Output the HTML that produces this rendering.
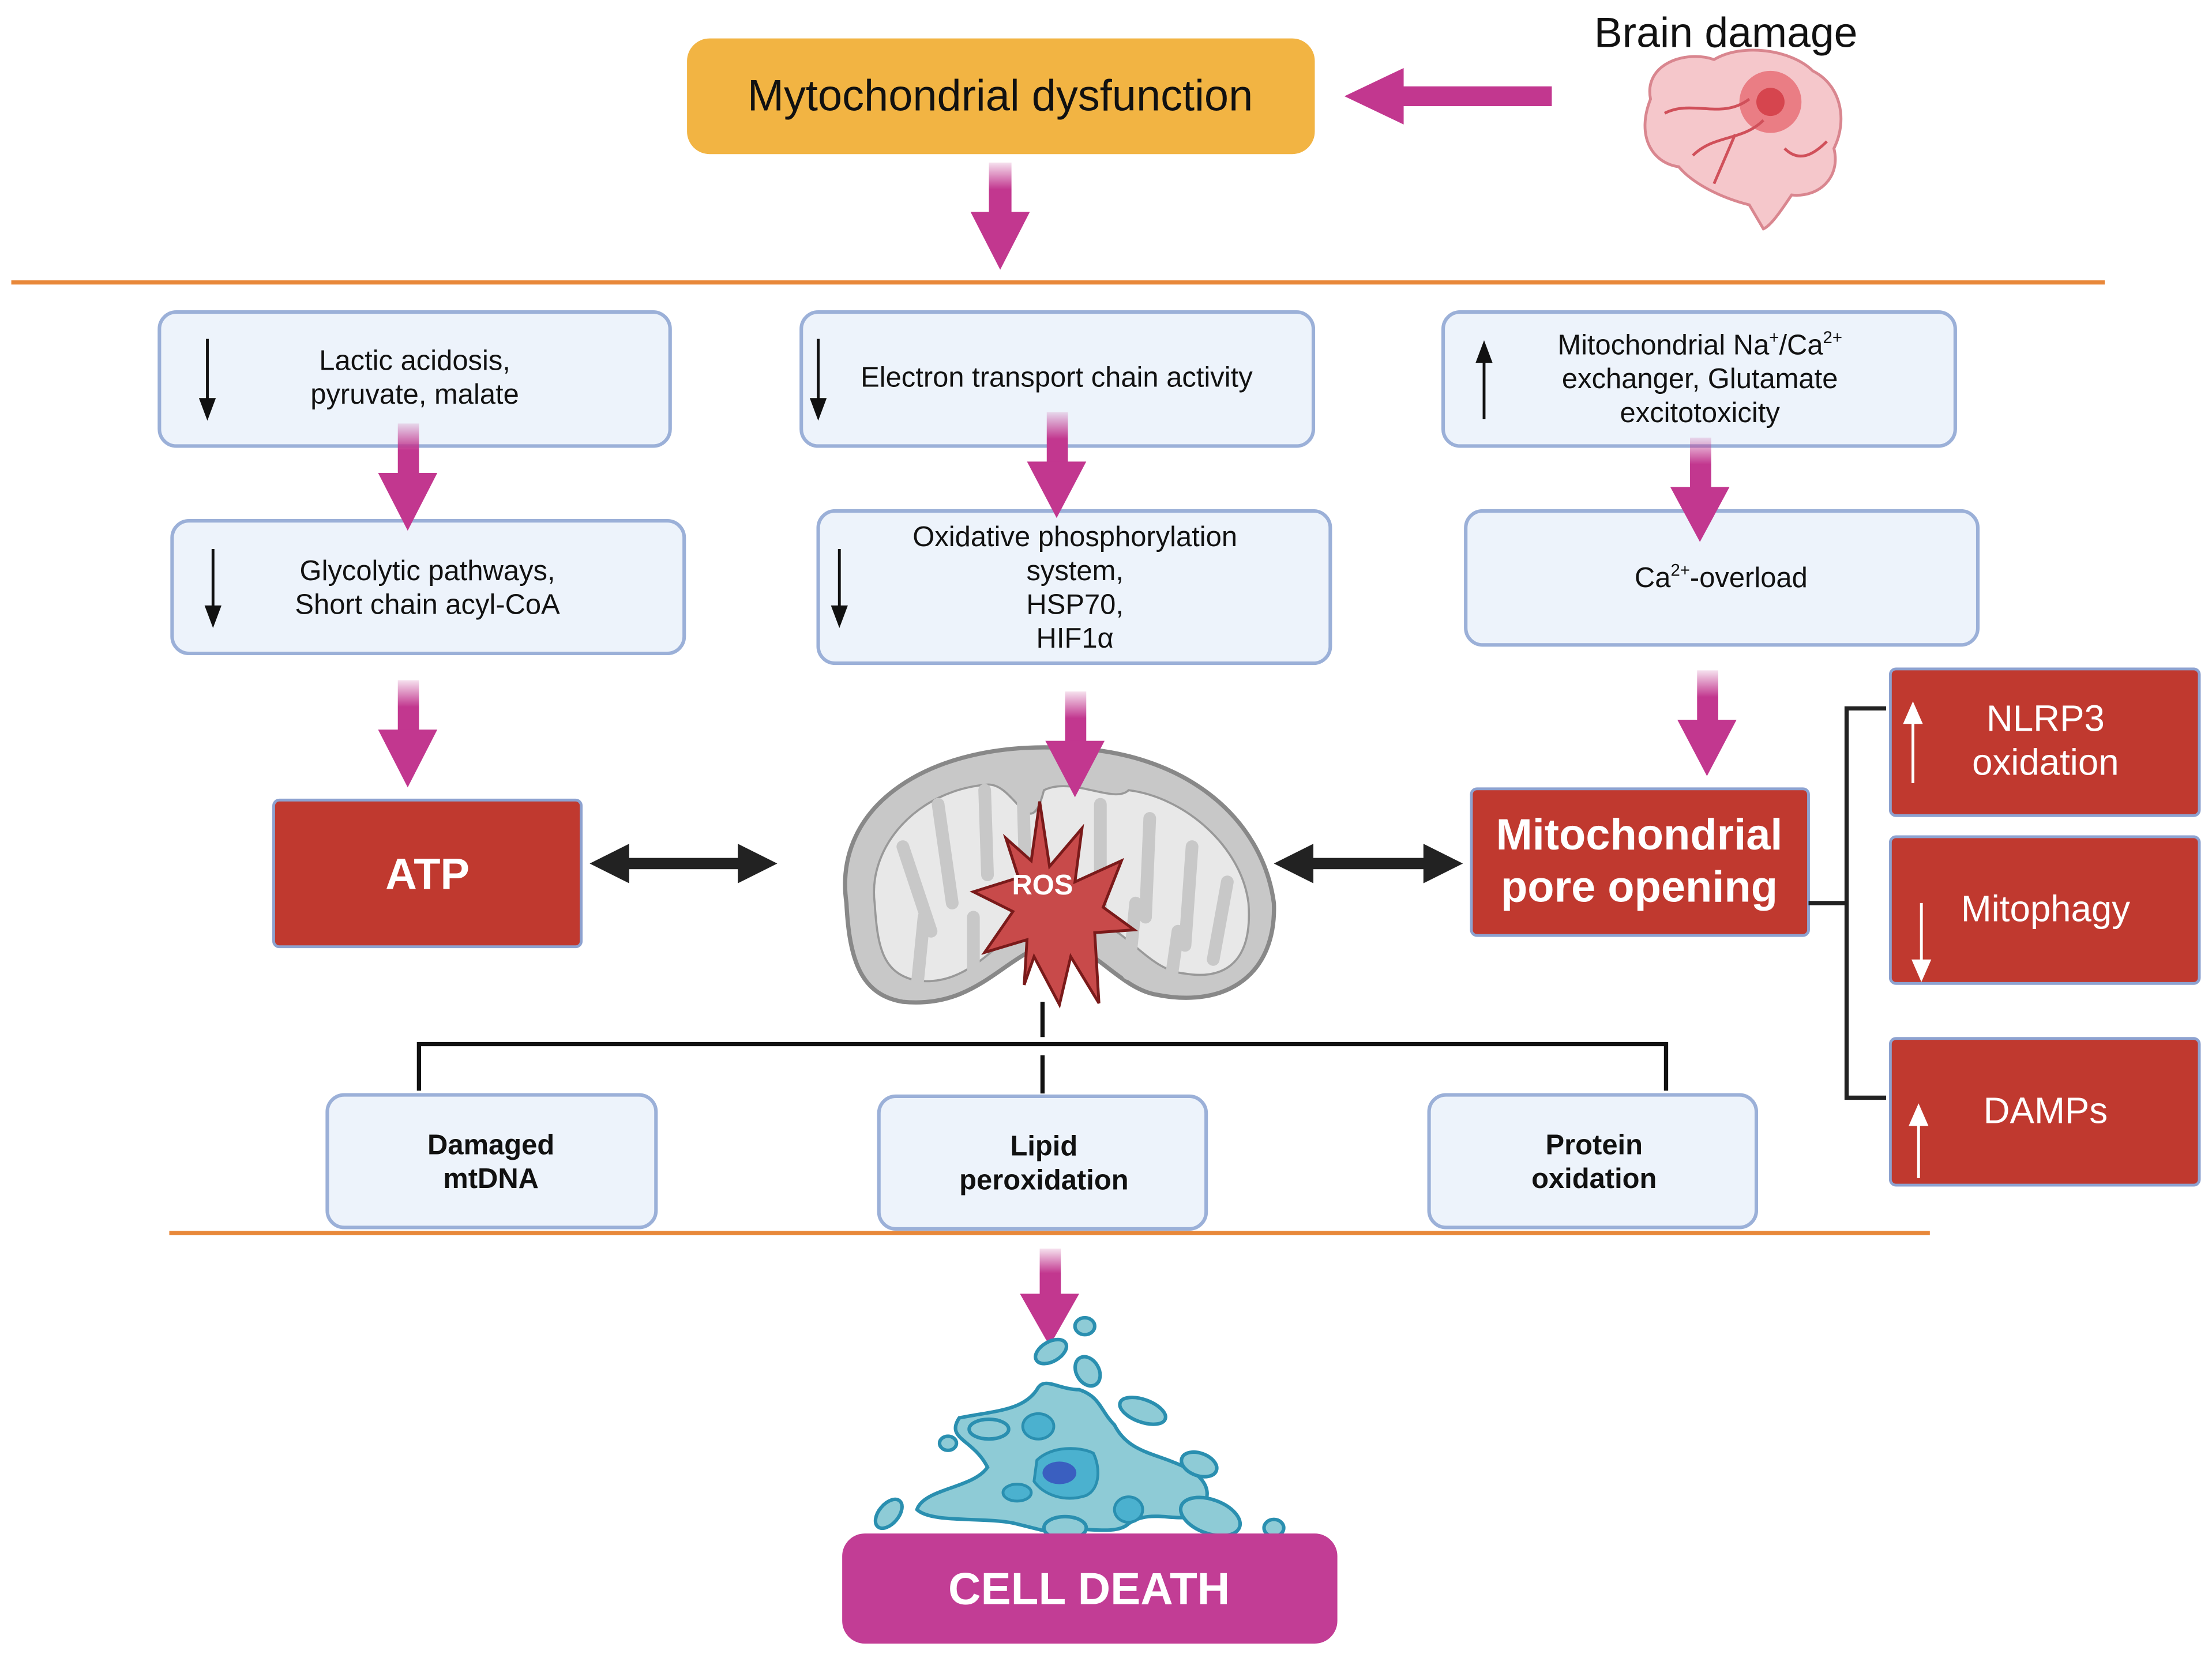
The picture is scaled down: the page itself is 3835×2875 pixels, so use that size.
<!DOCTYPE html>
<html><head><meta charset="utf-8"><style>
html,body{margin:0;padding:0;background:#fff}
svg{display:block}
text{font-family:"Liberation Sans",sans-serif}
</style></head><body>
<svg width="3835" height="2875" viewBox="0 0 1568 1175" xmlns="http://www.w3.org/2000/svg">
<defs>
<linearGradient id="pg" x1="0" y1="0" x2="0" y2="1"><stop offset="0" stop-color="#c2378f" stop-opacity="0.15"/><stop offset="0.5" stop-color="#c2378f"/><stop offset="1" stop-color="#c2378f"/></linearGradient>
<linearGradient id="pgh" x1="1" y1="0" x2="0" y2="0"><stop offset="0" stop-color="#c2378f"/><stop offset="1" stop-color="#c2378f"/></linearGradient>
</defs>
<!-- top -->
<rect x="487" y="27" width="445" height="82" rx="16" fill="#f2b443"/>
<text x="709" y="78" font-size="31" text-anchor="middle" fill="#111">Mytochondrial dysfunction</text>
<text x="1130" y="33" font-size="30" fill="#111">Brain damage</text>
<polygon points="1100,61 995,61 995,48 953,68 995,88 995,75 1100,75" fill="#c2378f"/>
<!-- brain -->
<g>
<path d="M1170,70 C1165,45 1195,35 1215,42 C1235,30 1270,35 1285,50 C1305,60 1310,85 1300,105 C1305,125 1290,140 1270,138 C1262,150 1255,160 1250,162 L1240,145 C1220,140 1200,130 1190,118 C1170,115 1160,95 1170,70Z" fill="#f5c7cb" stroke="#d9868f" stroke-width="2"/>
<circle cx="1255" cy="72" r="22" fill="#e0404a" opacity="0.55"/>
<circle cx="1255" cy="72" r="10" fill="#c8202a" opacity="0.6"/>
<path d="M1180,80 C1200,70 1220,85 1240,70 M1200,110 C1215,95 1235,100 1250,85 M1215,130 L1230,95 M1265,105 C1275,115 1285,110 1295,100" stroke="#d0505a" stroke-width="2" fill="none"/>
</g>
<!-- down arrow top -->
<rect x="701" y="115" width="16" height="38" fill="url(#pg)"/>
<polygon points="688,150 730,150 709,191" fill="#c2378f"/>
<line x1="8" y1="200" x2="1492" y2="200" stroke="#e8883a" stroke-width="3"/>
<!-- blue boxes -->
<g fill="#edf3fb" stroke="#9bb0d8" stroke-width="2.5">
<rect x="113" y="221" width="362" height="95" rx="12"/>
<rect x="568" y="221" width="363" height="95" rx="12"/>
<rect x="1023" y="221" width="363" height="95" rx="12"/>
<rect x="122" y="369" width="363" height="94" rx="12"/>
<rect x="580" y="362" width="363" height="108" rx="12"/>
<rect x="1039" y="362" width="363" height="95" rx="12"/>
<rect x="232" y="776" width="233" height="94" rx="12"/>
<rect x="623" y="777" width="232" height="94" rx="12"/>
<rect x="1013" y="776" width="232" height="94" rx="12"/>
</g>
<g font-size="20" fill="#111" text-anchor="middle">
<text x="294" y="262">Lactic acidosis,</text><text x="294" y="286">pyruvate, malate</text>
<text x="749" y="274">Electron transport chain activity</text>
<text x="1205" y="251">Mitochondrial Na<tspan font-size="12" dy="-8">+</tspan><tspan dy="8">/Ca</tspan><tspan font-size="12" dy="-8">2+</tspan></text>
<text x="1205" y="275">exchanger, Glutamate</text><text x="1205" y="299">excitotoxicity</text>
<text x="303" y="411">Glycolytic pathways,</text><text x="303" y="435">Short chain acyl-CoA</text>
<text x="762" y="387">Oxidative phosphorylation</text><text x="762" y="411">system,</text><text x="762" y="435">HSP70,</text><text x="762" y="459">HIF1α</text>
<text x="1220" y="416">Ca<tspan font-size="12" dy="-8">2+</tspan><tspan dy="8">-overload</tspan></text>
<g font-weight="bold"><text x="348" y="818">Damaged</text><text x="348" y="842">mtDNA</text>
<text x="740" y="819">Lipid</text><text x="740" y="843">peroxidation</text>
<text x="1130" y="818">Protein</text><text x="1130" y="842">oxidation</text></g>
</g>
<!-- small black arrows -->
<g stroke="#111" stroke-width="2" fill="#111">
<line x1="147" y1="240" x2="147" y2="285"/><polygon points="141,282 153,282 147,298" stroke="none"/>
<line x1="580" y1="240" x2="580" y2="285"/><polygon points="574,282 586,282 580,298" stroke="none"/>
<line x1="1052" y1="297" x2="1052" y2="254"/><polygon points="1046,257 1058,257 1052,241" stroke="none"/>
<line x1="151" y1="389" x2="151" y2="432"/><polygon points="145,429 157,429 151,445" stroke="none"/>
<line x1="595" y1="389" x2="595" y2="432"/><polygon points="589,429 601,429 595,445" stroke="none"/>
</g>
<!-- pink arrows mid -->
<g>
<rect x="282" y="300" width="15" height="38" fill="url(#pg)"/><polygon points="268,335 310,335 289,376" fill="#c2378f"/>
<rect x="742" y="292" width="15" height="38" fill="url(#pg)"/><polygon points="728,327 770,327 749,367" fill="#c2378f"/>
<rect x="1198" y="310" width="15" height="38" fill="url(#pg)"/><polygon points="1184,345 1226,345 1205,384" fill="#c2378f"/>
<rect x="282" y="482" width="15" height="38" fill="url(#pg)"/><polygon points="268,517 310,517 289,558" fill="#c2378f"/>
<rect x="1203" y="475" width="15" height="38" fill="url(#pg)"/><polygon points="1189,510 1231,510 1210,550" fill="#c2378f"/>
</g>
<!-- ATP -->
<rect x="194" y="567" width="218" height="104" rx="4" fill="#c0392f" stroke="#8da2d0" stroke-width="2"/>
<text x="303" y="630" font-size="31" font-weight="bold" fill="#fff" text-anchor="middle">ATP</text>
<g fill="#222">
<rect x="440" y="608" width="90" height="8"/><polygon points="418,612 446,598 446,626"/><polygon points="551,612 523,598 523,626"/>
<rect x="925" y="608" width="90" height="8"/><polygon points="903,612 931,598 931,626"/><polygon points="1037,612 1009,598 1009,626"/>
</g>
<!-- mitochondrion -->
<g>
<path d="M600,640 C590,570 660,525 755,530 C840,532 895,580 903,640 C905,690 870,715 820,705 C790,700 770,660 740,670 C710,680 690,715 640,710 C610,705 602,680 600,640Z" fill="#c8c8c8" stroke="#888" stroke-width="3"/>
<path d="M620,640 C615,600 650,560 700,556 C720,555 730,600 740,560 C760,550 790,570 800,560 C840,565 880,600 885,640 C888,680 870,695 840,690 C815,688 800,660 780,655 C760,652 745,650 735,652 C710,660 690,700 650,695 C625,690 622,670 620,640Z" fill="#e8e8e8" stroke="#999" stroke-width="1.5"/>
<g stroke="#c8c8c8" stroke-width="9" stroke-linecap="round" fill="none">
<path d="M640,600 L660,660"/><path d="M665,570 L675,640"/><path d="M698,560 L700,620"/><path d="M725,555 L728,660"/>
<path d="M780,570 L780,660"/><path d="M815,580 L812,650"/><path d="M845,600 L840,670"/><path d="M870,625 L860,680"/>
<path d="M650,700 L655,650"/><path d="M690,690 L690,650"/><path d="M800,690 L805,640"/><path d="M830,695 L835,660"/>
</g>
<polygon points="737,568 744,614 767,587 762,625 795,610 782,643 804,659 776,661 779,711 759,678 751,712 733,678 726,698 728,666 698,675 718,646 690,632 722,622 713,594 731,610" fill="#c84a4a" stroke="#7a1a1a" stroke-width="2"/>
<text x="739" y="634" font-size="20" font-weight="bold" fill="#fff" text-anchor="middle">ROS</text>
</g>
<rect x="755" y="490" width="15" height="38" fill="url(#pg)"/><polygon points="741,525 783,525 762,565" fill="#c2378f"/>
<!-- pore -->
<rect x="1043" y="559" width="239" height="104" rx="4" fill="#c0392f" stroke="#8da2d0" stroke-width="2"/>
<text x="1162" y="602" font-size="31" font-weight="bold" fill="#fff" text-anchor="middle">Mitochondrial</text>
<text x="1162" y="639" font-size="31" font-weight="bold" fill="#fff" text-anchor="middle">pore opening</text>
<!-- bracket -->
<g stroke="#222" stroke-width="3" fill="none">
<line x1="1282" y1="640" x2="1309" y2="640"/><polyline points="1337,502 1309,502 1309,778 1337,778"/>
</g>
<g fill="#c0392f" stroke="#8da2d0" stroke-width="2">
<rect x="1340" y="474" width="219" height="104" rx="4"/><rect x="1340" y="593" width="219" height="104" rx="4"/><rect x="1340" y="736" width="219" height="104" rx="4"/>
</g>
<g font-size="26" fill="#fff" text-anchor="middle">
<text x="1450" y="518">NLRP3</text><text x="1450" y="549">oxidation</text>
<text x="1450" y="653">Mitophagy</text><text x="1450" y="796">DAMPs</text>
</g>
<g stroke="#fff" stroke-width="2" fill="#fff">
<line x1="1356" y1="555" x2="1356" y2="510"/><polygon points="1349,513 1363,513 1356,497" stroke="none"/>
<line x1="1362" y1="640" x2="1362" y2="683"/><polygon points="1355,680 1369,680 1362,696" stroke="none"/>
<line x1="1360" y1="835" x2="1360" y2="795"/><polygon points="1353,798 1367,798 1360,782" stroke="none"/>
</g>
<!-- tree -->
<g stroke="#111" stroke-width="3" fill="none">
<line x1="739" y1="710" x2="739" y2="735"/><polyline points="297,773 297,740 1181,740 1181,773"/><line x1="739" y1="748" x2="739" y2="775"/>
</g>
<line x1="120" y1="874" x2="1368" y2="874" stroke="#e8883a" stroke-width="3"/>
<rect x="737" y="885" width="15" height="35" fill="url(#pg)"/><polygon points="723,917 765,917 744,954" fill="#c2378f"/>
<!-- cell -->
<g fill="#8ecbd6" stroke="#2a8fb0" stroke-width="2.5">
<path d="M720,1080 C700,1075 660,1080 650,1070 C655,1055 690,1055 700,1040 C690,1020 670,1020 680,1005 C705,1000 725,1000 735,985 C740,975 750,985 765,985 C780,990 780,1000 790,1010 C800,1030 820,1030 840,1040 C860,1050 860,1065 845,1075 C830,1078 815,1070 800,1080 C790,1090 760,1080 740,1085 Z"/>
<ellipse cx="769" cy="940" rx="7" ry="6"/><ellipse cx="745" cy="958" rx="12" ry="7" transform="rotate(-30 745 958)"/><ellipse cx="771" cy="972" rx="8" ry="11" transform="rotate(-30 771 972)"/>
<ellipse cx="810" cy="1000" rx="17" ry="8" transform="rotate(20 810 1000)"/><ellipse cx="701" cy="1013" rx="14" ry="7"/><ellipse cx="672" cy="1023" rx="6" ry="5"/>
<ellipse cx="850" cy="1038" rx="13" ry="8" transform="rotate(20 850 1038)"/><ellipse cx="630" cy="1073" rx="7" ry="12" transform="rotate(40 630 1073)"/>
<ellipse cx="858" cy="1075" rx="22" ry="12" transform="rotate(20 858 1075)"/><ellipse cx="755" cy="1083" rx="15" ry="8"/><ellipse cx="903" cy="1083" rx="7" ry="6"/>
</g>
<g fill="#4bb1cf" stroke="#2a8fb0" stroke-width="2"><path d="M735,1035 C745,1025 765,1025 775,1030 C780,1040 780,1055 770,1060 C755,1065 740,1060 733,1050Z"/><ellipse cx="736" cy="1011" rx="11" ry="9"/><ellipse cx="721" cy="1058" rx="10" ry="6"/><ellipse cx="800" cy="1070" rx="10" ry="9"/></g>
<ellipse cx="751" cy="1044" rx="12" ry="8" fill="#3a5fc0"/>
<rect x="597" y="1087" width="351" height="78" rx="16" fill="#c23d95"/>
<text x="772" y="1137" font-size="32" font-weight="bold" fill="#fff" text-anchor="middle">CELL DEATH</text>
</svg>
</body></html>
